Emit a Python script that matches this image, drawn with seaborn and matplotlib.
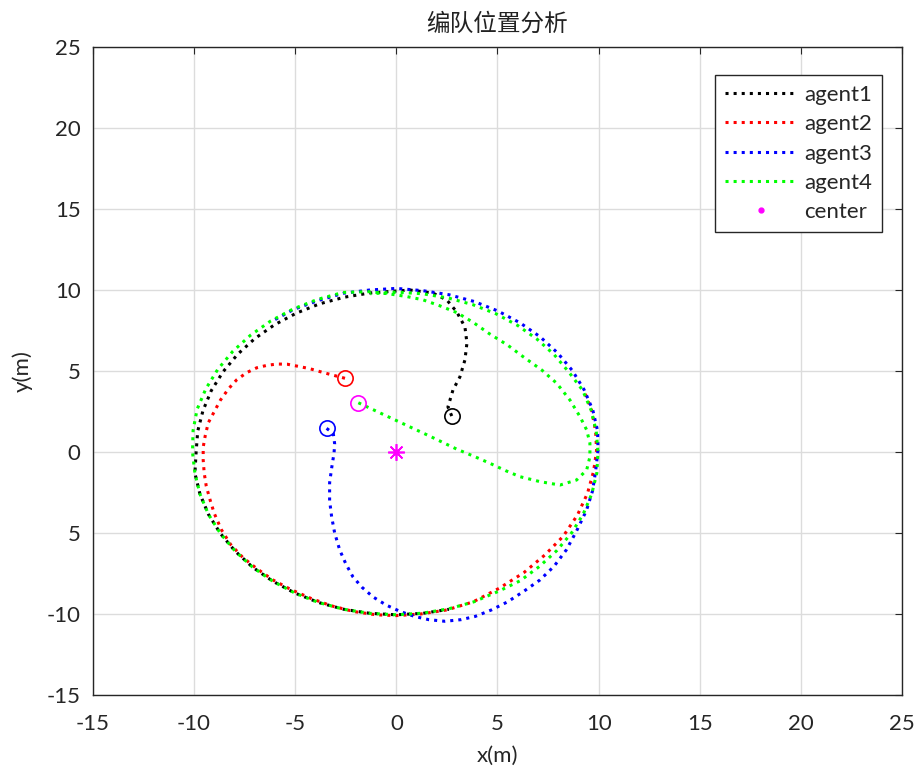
import numpy as np
import pandas as pd
import matplotlib
matplotlib.use("Agg")
import matplotlib.pyplot as plt
import seaborn as sns

# Data ------------------------------------------------------------------------#
agent1_x = [2.74, 2.55, 2.8, 3.14, 3.39, 3.49, 3.39, 2.99, 2.5, 1.81, 0.67,
            -1.29, -2.56, -3.79, -4.95, -6.03, -7.0, -7.85, -8.57, -9.15, -9.56, -9.82, -9.9,
            -9.96, -9.71, -9.29, -8.7, -7.97, -7.11, -6.12, -5.03, -3.85, -2.6, -1.31, 0.0,
            1.31, 2.6]
agent1_y = [2.22, 2.78, 3.83, 4.63, 5.68, 6.73, 7.72, 8.64, 9.38, 9.81, 10.0,
            9.82, 9.56, 9.15, 8.57, 7.85, 7.0, 6.03, 4.95, 3.79, 2.56, 1.29, 0.0,
            -1.31, -2.6, -3.85, -5.03, -6.12, -7.11, -7.97, -8.7, -9.29, -9.71, -9.96, -10.05,
            -9.96, -9.71]

agent2_x = [-2.54, -3.0, -3.6, -4.3, -4.9, -5.4, -5.9, -6.4, -6.9, -7.4, -7.9, -8.3, -8.7,
            -9.0, -9.3, -9.45, -9.55, -9.55, -9.5, -9.4, -9.2, -9.0, -8.65, -8.2, -7.6, -6.9,
            -6.1, -5.2, -4.2, -3.2, -2.1, -1.0, 0.0, 1.2, 2.5, 3.8, 5.1, 6.3, 7.35, 8.25, 8.95,
            9.45, 9.75, 9.9, 9.85, 9.65, 9.25]
agent2_y = [4.55, 4.7, 4.9, 5.15, 5.3, 5.42, 5.43, 5.35, 5.2, 4.9, 4.45, 3.9, 3.2,
            2.5, 1.8, 1.0, 0.3, -0.5, -1.3, -2.1, -3.0, -3.8, -4.8, -5.7, -6.5, -7.2,
            -7.9, -8.5, -9.05, -9.5, -9.85, -10.05, -10.1, -10.0, -9.75, -9.25, -8.4, -7.45,
            -6.35, -5.2, -3.9, -2.55, -1.2, 0.1, 1.3, 2.6, 3.85]

agent3_x = [-3.45, -3.12, -3.05, -3.08, -3.2, -3.3, -3.3, -3.2, -3.05, -2.8, -2.5, -2.15,
            -1.7, -1.15, -0.5, 0.2, 0.9, 1.6, 2.4, 3.2, 3.9, 4.7, 5.5, 6.3, 7.1, 7.8, 8.4, 8.9,
            9.4, 9.7, 9.85, 9.97, 9.95, 9.71, 9.28, 8.7, 7.97, 7.11, 6.12, 5.03, 3.85, 2.6,
            1.31, 0.0, -1.32, -2.62, -3.87, -5.08, -6.18]
agent3_y = [1.46, 1.15, 0.5, -0.05, -1.0, -1.9, -3.0, -4.0, -5.0, -6.05, -6.9, -7.7,
            -8.35, -8.95, -9.45, -9.85, -10.15, -10.35, -10.45, -10.35, -10.15, -9.75, -9.25,
            -8.6, -7.9, -7.05, -6.05, -4.9, -3.6, -2.4, -1.2, 0.1, 1.3, 2.6, 3.85, 5.03, 6.12,
            7.11, 7.97, 8.7, 9.29, 9.71, 9.96, 10.1, 10.0, 9.8, 9.35, 8.8, 8.05]

agent4_x = [-1.88, -0.7, 0.5, 1.7, 2.98, 3.9, 4.63, 5.4, 6.1, 7.1, 8.09, 8.91, 9.41, 9.57,
            9.57, 9.41, 9.08, 8.58, 7.93, 7.2, 6.27, 5.5, 4.6, 3.8, 3.0, 2.1, 1.3, 0.5, -0.3,
            -1.3, -2.64, -3.9, -5.1, -6.21, -7.21, -8.09, -8.83, -9.42, -9.85, -10.05, -10.08,
            -9.96, -9.71, -9.29, -8.7, -7.97, -7.11, -6.12, -5.03, -3.85, -2.6, -1.31, 0.0,
            1.3, 2.59, 3.83, 5.05, 6.12, 7.07, 7.93, 8.66, 9.24, 9.66, 9.91, 9.97, 9.88, 9.63,
            9.21, 8.53, 7.81, 6.96, 6.0, 4.93, 3.77, 2.55, 1.29, 0.0, -1.29]
agent4_y = [3.04, 2.35, 1.65, 0.95, 0.18, -0.3, -0.7, -1.15, -1.52, -1.83, -2.04, -1.73,
            -1.11, -0.29, 0.54, 1.36, 2.18, 3.21, 4.24, 5.05, 5.88, 6.6, 7.3, 8.0, 8.6, 9.05,
            9.4, 9.6, 9.75, 9.9, 9.85, 9.42, 8.83, 8.09, 7.21, 6.21, 5.1, 3.9, 2.64, 1.33, 0.0,
            -1.31, -2.6, -3.85, -5.03, -6.12, -7.11, -7.97, -8.7, -9.29, -9.71, -9.96, -10.05,
            -9.95, -9.68, -9.25, -8.6, -7.95, -7.07, -6.09, -5.0, -3.83, -2.59, -1.31, 0.0, 1.3,
            2.58, 3.81, 4.93, 6.0, 6.96, 7.81, 8.53, 9.1, 9.51, 9.77, 9.87, 9.77]

agent_names = ["agent1", "agent2", "agent3", "agent4"]
agent_colors = ["#000000", "#ff0000", "#0000ff", "#00ff00"]
start_colors = ["#000000", "#ff0000", "#0000ff", "#ff00ff"]
center_x = [0.0]
center_y = [0.0]

ticks = [-15, -10, -5, 0, 5, 10, 15, 20, 25]
xtick_labels = ["-15", "-10", "-5", "0", "5", "10", "15", "20", "25"]
ytick_labels = ["-15", "-10", "5", "0", "5", "10", "15", "20", "25"]

# Plot ------------------------------------------------------------------------#
sns.set_style("whitegrid")
plt.rcParams['font.family'] = ['Lato', 'Noto Sans CJK SC', 'DejaVu Sans']

fig = plt.figure(figsize=(9.15, 7.71), dpi=100)
ax = fig.add_axes([0.1016, 0.0986, 0.8842, 0.8404])

paths = [(agent1_x, agent1_y), (agent2_x, agent2_y), (agent3_x, agent3_y), (agent4_x, agent4_y)]
for (px, py), name, col in zip(paths, agent_names, agent_colors):
    df = pd.DataFrame({"x": px, "y": py})
    sns.lineplot(data=df, x="x", y="y", sort=False, estimator=None, color=col,
                 linestyle=":", linewidth=2.2, label=name, ax=ax)

# start markers
for (px, py), col in zip(paths, start_colors):
    ax.plot(px[0], py[0], marker="o", markersize=11, markerfacecolor="none",
            markeredgecolor=col, markeredgewidth=1.2, linestyle="none")

# center
ax.plot(center_x, center_y, marker=(8, 2, 0), markersize=12, color="#ff00ff",
        markeredgewidth=1.2, linestyle="none")
ax.plot(center_x, center_y, marker=".", markersize=7, color="#ff00ff",
        linestyle="none", label="center")

ax.set_xlim(-15, 25)
ax.set_ylim(-15, 25)
ax.set_xticks(ticks)
ax.set_xticklabels(xtick_labels)
ax.set_yticks(ticks)
ax.set_yticklabels(ytick_labels)
ax.tick_params(labelsize=16, direction="in", length=5, color="#262626",
               top=True, right=True)
ax.tick_params(axis="x", pad=14)
ax.tick_params(axis="y", pad=9)
ax.grid(True, color="#dcdcdc", linewidth=1)
for sp in ax.spines.values():
    sp.set_color("#262626")
    sp.set_linewidth(1)

ax.set_xlabel("x(m)", fontsize=16, labelpad=8)
ax.set_ylabel("y(m)", fontsize=16, labelpad=10)
ax.set_title("编队位置分析", fontsize=17, pad=12, color="#222222",
             family=["Noto Sans CJK SC", "DejaVu Sans"])

leg = ax.legend(loc="upper right", bbox_to_anchor=(0.975, 0.957), borderaxespad=0,
                fontsize=16, fancybox=False, framealpha=1, edgecolor="#262626",
                handlelength=3.25, handletextpad=0.3, labelspacing=0.42, borderpad=0.45)
leg.get_frame().set_linewidth(1)

fig.savefig("out.png", dpi=100)
